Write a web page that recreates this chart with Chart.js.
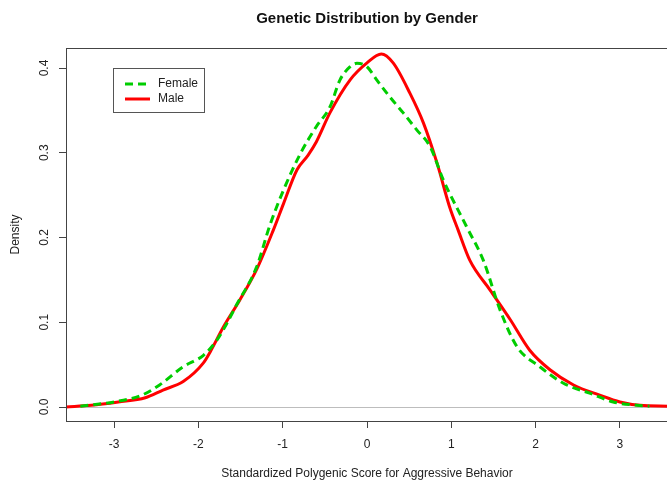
<!DOCTYPE html>
<html>
<head>
<meta charset="utf-8">
<script src="https://cdn.jsdelivr.net/npm/chart.js@4"></script>
<style>
  html, body { margin: 0; padding: 0; background: #fff; overflow: hidden; }
  #wrap { width: 667px; height: 480px; overflow: hidden; }
</style>
</head>
<body>
<div id="wrap"><canvas id="densityChart" width="672" height="480"></canvas></div>
<script>
// density curves
const femaleX = [-3.40, -3.00, -2.67, -2.46, -2.18, -1.94, -1.78, -1.66, -1.55, -1.31, -1.15, -0.99, -0.79, -0.60, -0.44, -0.32, -0.20, -0.12, 0.00, 0.115, 0.27, 0.43, 0.59, 0.75, 0.905, 1.18, 1.38, 1.58, 1.78, 2.05, 2.33, 2.65, 2.92, 3.20, 3.35];
const femaleY = [0.001, 0.006, 0.014, 0.026, 0.0475, 0.061, 0.079, 0.099, 0.120, 0.165, 0.215, 0.256, 0.299, 0.331, 0.354, 0.386, 0.4015, 0.4055, 0.4015, 0.386, 0.366, 0.347, 0.327, 0.307, 0.268, 0.213, 0.173, 0.114, 0.071, 0.0475, 0.028, 0.016, 0.006, 0.002, 0.001];

const maleX = [-3.57, -3.27, -2.95, -2.63, -2.42, -2.18, -1.94, -1.86, -1.70, -1.51, -1.31, -1.11, -0.99, -0.83, -0.70, -0.60, -0.44, -0.20, 0.00, 0.17, 0.31, 0.51, 0.67, 0.83, 0.98, 1.08, 1.22, 1.46, 1.70, 1.93, 2.17, 2.45, 2.76, 3.00, 3.24, 3.57];
const maleY = [0.000, 0.002, 0.006, 0.011, 0.020, 0.030, 0.052, 0.065, 0.095, 0.126, 0.162, 0.209, 0.240, 0.280, 0.297, 0.313, 0.347, 0.386, 0.406, 0.4165, 0.406, 0.370, 0.335, 0.288, 0.236, 0.209, 0.173, 0.138, 0.103, 0.067, 0.044, 0.026, 0.014, 0.006, 0.002, 0.001];

const seriesLabels = ["Female", "Male"];
const xRange = [-3.57, 3.57];
const yRange = [-0.0165, 0.4236];

const FONT = "'Liberation Sans', Arial, sans-serif";

function toPoints(xs, ys) {
  return xs.map((x, i) => ({ x: x, y: ys[i] }));
}

// R-style frame around the plot
const framePlugin = {
  id: "frame",
  afterDraw(chart) {
    const a = chart.chartArea;
    const ctx = chart.ctx;
    ctx.save();
    ctx.strokeStyle = "#444";
    ctx.lineWidth = 1;
    ctx.strokeRect(Math.round(a.left) + 0.5, Math.round(a.top) + 0.5, Math.round(a.right - a.left), Math.round(a.bottom - a.top));
    ctx.restore();
  }
};

// boxed legend in the upper left like R's legend()
const boxLegend = {
  id: "boxLegend",
  afterDraw(chart) {
    const ctx = chart.ctx;
    ctx.save();
    ctx.strokeStyle = "#555";
    ctx.lineWidth = 1;
    ctx.strokeRect(113.5, 68.5, 91, 44);
    ctx.font = "12px " + FONT;
    ctx.textBaseline = "middle";
    ctx.fillStyle = "#222";
    chart.data.datasets.forEach((ds, i) => {
      const y = 84 + i * 15;
      ctx.beginPath();
      ctx.setLineDash(ds.borderDash || []);
      ctx.strokeStyle = ds.borderColor;
      ctx.lineWidth = ds.borderWidth;
      ctx.moveTo(125, y);
      ctx.lineTo(150, y);
      ctx.stroke();
      ctx.setLineDash([]);
      ctx.fillText(ds.label, 158, y);
    });
    ctx.restore();
  }
};

new Chart(document.getElementById("densityChart"), {
  type: "line",
  data: {
    datasets: [
      {
        label: seriesLabels[0],
        data: toPoints(femaleX, femaleY),
        borderColor: "#00CD00",
        borderWidth: 3,
        borderDash: [8, 5],
        pointRadius: 0,
        cubicInterpolationMode: "monotone",
        fill: false
      },
      {
        label: seriesLabels[1],
        data: toPoints(maleX, maleY),
        borderColor: "#FF0000",
        borderWidth: 3,
        pointRadius: 0,
        cubicInterpolationMode: "monotone",
        fill: false
      }
    ]
  },
  options: {
    responsive: false,
    animation: false,
    layout: { padding: { left: 0, right: 4, top: 0, bottom: 0 } },
    plugins: {
      legend: { display: false },
      tooltip: { enabled: false },
      title: {
        display: true,
        fullSize: false,
        text: "Genetic Distribution by Gender",
        color: "#111",
        font: { family: FONT, size: 15, weight: "bold", lineHeight: 1.2 },
        padding: { top: 10, bottom: 20 }
      }
    },
    scales: {
      x: {
        type: "linear",
        min: xRange[0],
        max: xRange[1],
        afterFit: (s) => { s.height = 59; },
        border: { display: false },
        grid: { drawOnChartArea: false, tickLength: 7, tickColor: "#444" },
        ticks: {
          stepSize: 1,
          includeBounds: false,
          color: "#222",
          padding: 9,
          font: { family: FONT, size: 12 },
          maxRotation: 0,
          callback: (v) => String(v)
        },
        title: {
          display: true,
          text: "Standardized Polygenic Score for Aggressive Behavior",
          color: "#222",
          font: { family: FONT, size: 12, lineHeight: 1.05 },
          padding: { top: 0, bottom: 0 }
        }
      },
      y: {
        min: yRange[0],
        max: yRange[1],
        afterFit: (s) => { s.width = 66; },
        border: { display: false },
        grid: {
          tickLength: 7,
          tickColor: "#444",
          color: (c) => (c.tick && c.tick.value === 0 ? "#bdbdbd" : "rgba(0,0,0,0)")
        },
        ticks: {
          stepSize: 0.1,
          includeBounds: false,
          color: "#222",
          padding: 6,
          minRotation: 90,
          maxRotation: 90,
          crossAlign: "center",
          font: { family: FONT, size: 12 },
          callback: (v) => Number(v).toFixed(1)
        },
        title: {
          display: true,
          text: "Density",
          color: "#222",
          font: { family: FONT, size: 12 },
          padding: { top: 8, bottom: 0 }
        }
      }
    }
  },
  plugins: [framePlugin, boxLegend]
});
</script>
</body>
</html>
